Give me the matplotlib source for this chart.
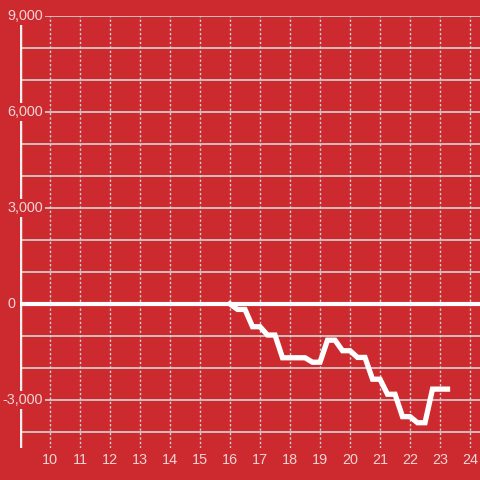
import numpy as np
import matplotlib.pyplot as plt

# data
hours = [16.0, 16.25, 16.5, 16.75, 17.0, 17.25, 17.5, 17.75, 18.0, 18.25, 18.5,
         18.75, 19.0, 19.25, 19.5, 19.75, 20.0, 20.25, 20.5, 20.75, 21.0,
         21.25, 21.5, 21.75, 22.0, 22.25, 22.5, 22.75, 23.0, 23.25]
values = [0, -170, -170, -710, -710, -970, -970, -1680, -1680, -1680, -1680,
          -1820, -1820, -1130, -1130, -1460, -1460, -1670, -1670, -2350, -2350,
          -2820, -2820, -3520, -3520, -3710, -3710, -2660, -2660, -2660]
xticks = list(range(10, 25))
yticks = [-3000, 0, 3000, 6000, 9000]
ylabels = ["-3,000", "0", "3,000", "6,000", "9,000"]

bg = "#cc2a2f"
txt = "#f2d4d4"
grid_c = "#d4d4d4"

plt.rcParams['font.family'] = ['Liberation Sans', 'DejaVu Sans']

fig = plt.figure(figsize=(4.8, 4.8), dpi=100, facecolor=bg)
ax = fig.add_axes([20/480, 32/480, 460/480, 432/480])
ax.set_facecolor(bg)
ax.set_xlim(9, 24.333)
ax.set_ylim(-4500, 9000)
for s in ax.spines.values():
    s.set_visible(False)
ax.set_xticks([])
ax.set_yticks([])

# grid
for y in range(-4000, 9001, 1000):
    if y != 0:
        ax.axhline(y, color=grid_c, lw=1.2, zorder=1)
for x in xticks:
    ax.axvline(x, color=grid_c, lw=1, ls=(0, (1.6, 1.6)), zorder=1)

# left axis line and zero line
ax.axvline(9.0, color="#f4f0f0", lw=3.2, zorder=2)
ax.axhline(0, color="white", lw=3, zorder=3)

ax.plot(hours, values, color="white", lw=3.8, solid_joinstyle='miter', zorder=4)

# tick labels
ytr = ax.get_yaxis_transform()
for v, lab in zip(yticks, ylabels):
    if v == 0:
        ax.text(-5/460, v, lab, transform=ytr, ha='right', va='center',
                fontsize=10.4, color=txt, zorder=6, clip_on=False,
                bbox=dict(facecolor=bg, edgecolor='none', pad=1.5))
    else:
        ax.text(23/460, v, lab, transform=ytr, ha='right', va='center',
                fontsize=10.4, color=txt, zorder=6,
                bbox=dict(facecolor=bg, edgecolor='none', pad=1.5))
xtr = ax.get_xaxis_transform()
for x in xticks:
    ax.text(x, -12.5/432, str(x), transform=xtr, ha='center', va='center',
            fontsize=10.4, color=txt, clip_on=False)

fig.savefig("out.png", dpi=100, facecolor=bg)
